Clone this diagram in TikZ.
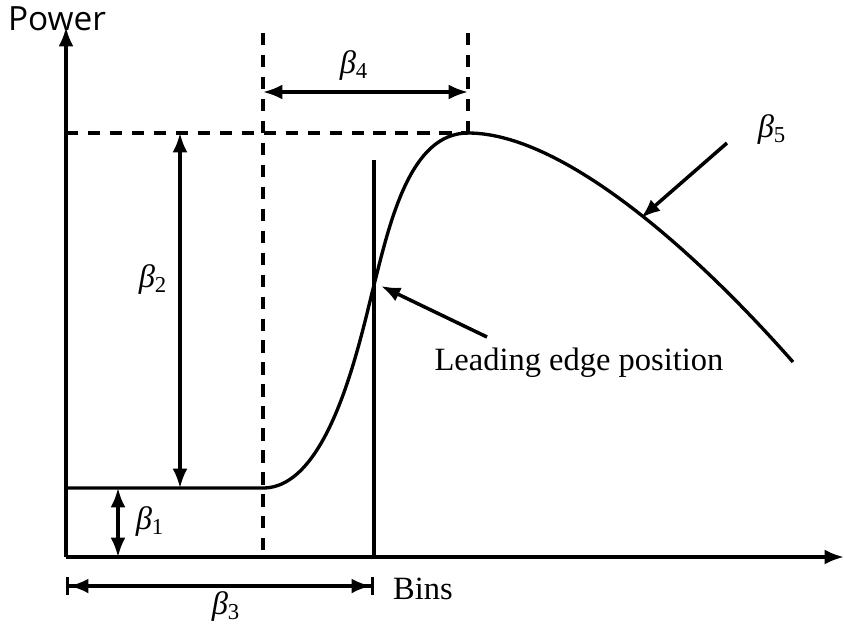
\documentclass[tikz,border=0pt]{standalone}
\usepackage{fontspec}
\setmainfont{Liberation Serif}
\newfontfamily\axisfont{Open Sans}
\usetikzlibrary{arrows.meta}
\newcommand{\bpar}[1]{\textit{β}\textsubscript{#1}}
\tikzset{
  axis/.style={line width=2pt,-{Latex[length=11pt,width=8.5pt]}},
  dimline/.style={line width=1.8pt,{Latex[length=11pt,width=8.5pt]}-{Latex[length=11pt,width=8.5pt]}},
  pointer/.style={line width=2pt,-{Latex[length=11pt,width=8.5pt]}},
  guide/.style={line width=1.9pt,dash pattern=on 7pt off 5.5pt},
  lbl/.style={font=\fontsize{18.5}{22}\selectfont,inner sep=0pt}
}
\begin{document}
\begin{tikzpicture}[x=0.02cm,y=-0.02cm,line cap=butt]
  \useasboundingbox (0,0) rectangle (844,626);
  % key points
  \coordinate (O) at (66,557);
  \coordinate (ytop) at (66,27);
  \coordinate (xend) at (844,557);
  \coordinate (base) at (66,488);
  \coordinate (rise) at (263,488);
  \coordinate (lead) at (374,285);
  \coordinate (peak) at (468,133);
  \coordinate (tail) at (793,362);
  % axes
  \draw[axis] (O) -- (ytop);
  \draw[axis] (O) -- (xend);
  \node[lbl,font=\axisfont\fontsize{19}{22}\selectfont] (power) at (57,19) {Power};
  \node[lbl] (bins) at (423,589) {Bins};
  % guides
  \draw[guide] (263,33) -- (263,557);
  \draw[guide] (468,33) -- (peak);
  \draw[guide] (66,133) -- (peak);
  \draw[line width=1.9pt] (374,160) -- (374,557);
  % waveform
  \draw[line width=1.9pt] (base) -- (rise)
    .. controls (330,488) and (360,340) .. (lead)
    .. controls (390,222) and (410,133) .. (peak)
    .. controls (560,133) and (690,245) .. (tail);
  % dimensions
  \draw[dimline] (118,488) -- (118,557);
  \node[lbl] (b1) at (150,522) {\bpar{1}};
  \draw[dimline] (180,133) -- (180,488);
  \node[lbl] (b2) at (153,280) {\bpar{2}};
  \draw[line width=1.8pt,{Bar[width=10pt]Latex[length=11pt,width=8.5pt]}-{Latex[length=11pt,width=8.5pt]Bar[width=10pt]}] (66,586) -- (374,586);
  \node[lbl] (b3) at (226,607) {\bpar{3}};
  \draw[dimline] (263,92) -- (468,92);
  \node[lbl] (b4) at (354,66) {\bpar{4}};
  \node[lbl] (b5) at (772,130) {\bpar{5}};
  \draw[pointer] (727,143) -- (641,218);
  \node[lbl] (edge) at (579,363) {Leading edge position};
  \draw[pointer] (487,337) -- (381,286);
\end{tikzpicture}
\end{document}
